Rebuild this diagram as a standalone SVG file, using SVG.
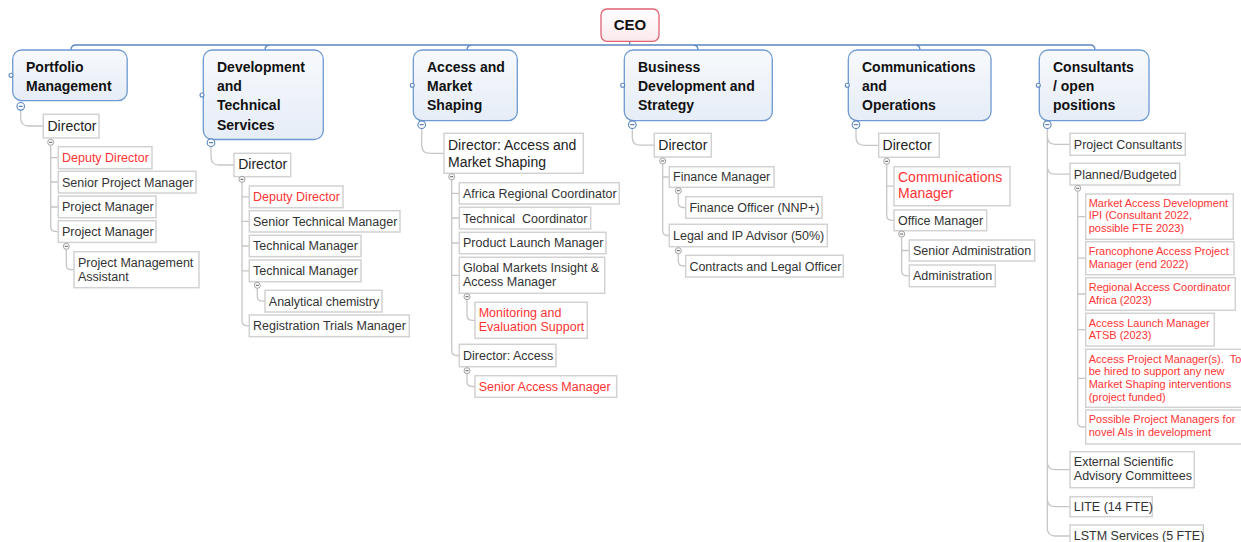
<svg xmlns="http://www.w3.org/2000/svg" width="1241" height="542" viewBox="0 0 1241 542">
<defs>
<linearGradient id="gb" x1="0" y1="0" x2="0" y2="1"><stop offset="0" stop-color="#f7f9fc"/><stop offset="1" stop-color="#e6edf7"/></linearGradient>
<linearGradient id="gr" x1="0" y1="0" x2="0" y2="1"><stop offset="0" stop-color="#ffffff"/><stop offset="1" stop-color="#fbe9ec"/></linearGradient>
<style>
.l1{fill:url(#gb);stroke:#6d9ad2;stroke-width:1.3}
.ceo{fill:url(#gr);stroke:#df6373;stroke-width:1.3}
.n{fill:#fff;stroke:#d2d2d2;stroke-width:1.5}
text{font-family:"Liberation Sans",Arial,sans-serif}
.h{font-size:14px;font-weight:bold;fill:#111}
.t{font-size:12.5px;fill:#333;white-space:pre}
.d{font-size:14px;fill:#222}
.r{fill:#ff3333}
.s{font-size:11px;fill:#ff3333;white-space:pre}
.c{fill:none;stroke:#c6c6c6;stroke-width:1.3}
.cb{fill:none;stroke:#5b87c2;stroke-width:1.3}
.k{fill:#fff;stroke:#a0a0a0;stroke-width:1}
.kb{fill:#fff;stroke:#5b87c2;stroke-width:1.1}
.m{stroke:#555;stroke-width:1}
.mb{stroke:#3a66a8;stroke-width:1}
</style>
</defs>
<rect width="1241" height="542" fill="#fff"/>

<g id="connectors">
<path class="cb" d="M629.7 41.3 V45 M76 45 H1090 M76 45 Q71 45 71 50 M270 45 Q265 45 265 50 M472 45 Q467 45 467 50 M693 45 Q698 45 698 50 M915 45 Q920 45 920 50 M1090 45 Q1095 45 1095 50"/>
<!-- Portfolio -->
<path class="c" d="M20.7 110 V118 Q20.7 126 28.7 126 H43.3"/>
<path class="c" d="M50.7 145.6 V226.5 Q50.7 231.5 55.7 231.5 H58.3 M50.7 157.7 H58.3 M50.7 182 H58.3 M50.7 207 H58.3"/>
<path class="c" d="M66.3 249.6 V264.7 Q66.3 269.7 71.3 269.7 H74"/>
<!-- Dev -->
<path class="c" d="M211 146.5 V157 Q211 165 219 165 H234"/>
<path class="c" d="M242 182.6 V320.8 Q242 325.8 247 325.8 H249.3 M242 196.8 H249.3 M242 221.3 H249.3 M242 246 H249.3 M242 270.8 H249.3"/>
<path class="c" d="M257.3 288.6 V296.2 Q257.3 301.2 262.3 301.2 H265"/>
<!-- Access -->
<path class="c" d="M421.7 128.5 V145.3 Q421.7 153.3 429.7 153.3 H444"/>
<path class="c" d="M451.7 180 V350.5 Q451.7 355.5 456.7 355.5 H459.3 M451.7 193.3 H459.3 M451.7 218 H459.3 M451.7 243 H459.3 M451.7 275.3 H459.3"/>
<path class="c" d="M467 300 V315.3 Q467 320.3 472 320.3 H475"/>
<path class="c" d="M467 374 V381.5 Q467 386.5 472 386.5 H475"/>
<!-- Business -->
<path class="c" d="M632.3 128.5 V137.2 Q632.3 145.2 640.3 145.2 H654.3"/>
<path class="c" d="M662.7 164.3 V230.5 Q662.7 235.5 667.7 235.5 H669.3 M662.7 177 H669.3"/>
<path class="c" d="M678.3 194 V202.5 Q678.3 207.5 683.3 207.5 H685.7"/>
<path class="c" d="M678.3 254 V261 Q678.3 266 683.3 266 H685.7"/>
<!-- Comms -->
<path class="c" d="M856 128.5 V137.3 Q856 145.3 864 145.3 H878.7"/>
<path class="c" d="M886.7 164.6 V215.3 Q886.7 220.3 891.7 220.3 H894 M886.7 186.2 H894"/>
<path class="c" d="M901.7 237.3 V270.8 Q901.7 275.8 906.7 275.8 H909.3 M901.7 250.5 H909.3"/>
<!-- Consultants -->
<path class="c" d="M1047.3 128.5 V528 Q1047.3 536 1055.3 536 H1070 M1047.3 136.3 Q1047.3 144.3 1055.3 144.3 H1070 M1047.3 166.2 Q1047.3 174.2 1055.3 174.2 H1070 M1047.3 461.7 Q1047.3 469.7 1055.3 469.7 H1070 M1047.3 498.7 Q1047.3 506.7 1055.3 506.7 H1070"/>
<path class="c" d="M1077.7 191.6 V422 Q1077.7 427 1082.7 427 H1085.7 M1077.7 216.7 H1085.7 M1077.7 258.2 H1085.7 M1077.7 294 H1085.7 M1077.7 329.7 H1085.7 M1077.7 378.3 H1085.7"/>
</g>

<g id="ceo">
<rect class="ceo" x="601" y="9" width="58" height="32.3" rx="6"/>
<text x="630" y="29.5" text-anchor="middle" style="font-size:15px;font-weight:bold;fill:#111">CEO</text>
</g>

<!-- Level 1 -->
<g id="portfolio">
<rect class="l1" x="12.7" y="50" width="114.5" height="50.7" rx="9"/>
<text class="h" x="26" y="71.7">Portfolio</text>
<text class="h" x="26" y="91">Management</text>
<circle class="kb" cx="11" cy="75.3" r="2"/>
<circle class="kb" cx="20.7" cy="106.3" r="3.8"/><line class="mb" x1="18.7" y1="106.3" x2="22.7" y2="106.3"/>
</g>
<g id="dev">
<rect class="l1" x="203.3" y="50" width="120" height="89.5" rx="9"/>
<text class="h" x="217" y="71.7">Development</text>
<text class="h" x="217" y="91">and</text>
<text class="h" x="217" y="110.3">Technical</text>
<text class="h" x="217" y="129.6">Services</text>
<circle class="kb" cx="202" cy="95" r="2"/>
<circle class="kb" cx="211" cy="142.7" r="3.8"/><line class="mb" x1="209" y1="142.7" x2="213" y2="142.7"/>
</g>
<g id="access">
<rect class="l1" x="413.3" y="50" width="104" height="70.7" rx="9"/>
<text class="h" x="427" y="71.7">Access and</text>
<text class="h" x="427" y="91">Market</text>
<text class="h" x="427" y="110.3">Shaping</text>
<circle class="kb" cx="412.3" cy="85.3" r="2"/>
<circle class="kb" cx="421.7" cy="124.7" r="3.8"/><line class="mb" x1="419.7" y1="124.7" x2="423.7" y2="124.7"/>
</g>
<g id="business">
<rect class="l1" x="624.3" y="50" width="148" height="70.7" rx="9"/>
<text class="h" x="638" y="71.7">Business</text>
<text class="h" x="638" y="91">Development and</text>
<text class="h" x="638" y="110.3">Strategy</text>
<circle class="kb" cx="622.7" cy="85.3" r="2"/>
<circle class="kb" cx="632.3" cy="124.7" r="3.8"/><line class="mb" x1="630.3" y1="124.7" x2="634.3" y2="124.7"/>
</g>
<g id="comms">
<rect class="l1" x="848.3" y="50" width="142.7" height="70.7" rx="9"/>
<text class="h" x="862" y="71.7">Communications</text>
<text class="h" x="862" y="91">and</text>
<text class="h" x="862" y="110.3">Operations</text>
<circle class="kb" cx="847.3" cy="85.3" r="2"/>
<circle class="kb" cx="856" cy="124.7" r="3.8"/><line class="mb" x1="854" y1="124.7" x2="858" y2="124.7"/>
</g>
<g id="consultants">
<rect class="l1" x="1039.3" y="50" width="109.7" height="70.7" rx="9"/>
<text class="h" x="1053" y="71.7">Consultants</text>
<text class="h" x="1053" y="91">/ open</text>
<text class="h" x="1053" y="110.3">positions</text>
<circle class="kb" cx="1038.3" cy="85.3" r="2"/>
<circle class="kb" cx="1047.3" cy="124.7" r="3.8"/><line class="mb" x1="1045.3" y1="124.7" x2="1049.3" y2="124.7"/>
</g>

<!-- Portfolio children -->
<g id="pm-director"><rect class="n" x="43.3" y="114.3" width="55.7" height="23.7"/><text class="d" x="47.5" y="130.7">Director</text>
<circle class="k" cx="50.7" cy="142.3" r="3"/><line class="m" x1="49.2" y1="142.3" x2="52.2" y2="142.3"/></g>
<g id="pm-deputy"><rect class="n" x="58.3" y="146.7" width="93.7" height="22"/><text class="t r" x="62" y="161.9">Deputy Director</text></g>
<g id="pm-spm"><rect class="n" x="58.3" y="171.3" width="137.7" height="21.7"/><text class="t" x="62" y="186.5">Senior Project Manager</text></g>
<g id="pm-pm1"><rect class="n" x="58.3" y="196" width="97.7" height="21.7"/><text class="t" x="62" y="211.2">Project Manager</text></g>
<g id="pm-pm2"><rect class="n" x="58.3" y="220.7" width="97.7" height="21.7"/><text class="t" x="62" y="235.9">Project Manager</text>
<circle class="k" cx="66.3" cy="246.3" r="3"/><line class="m" x1="64.8" y1="246.3" x2="67.8" y2="246.3"/></g>
<g id="pm-pma"><rect class="n" x="74" y="251.7" width="125" height="36"/><text class="t" x="78" y="266.7">Project Management</text><text class="t" x="78" y="280.9">Assistant</text></g>

<!-- Dev children -->
<g id="dts-director"><rect class="n" x="234" y="153.3" width="56.7" height="23.4"/><text class="d" x="238.2" y="169.4">Director</text>
<circle class="k" cx="242" cy="179.3" r="3"/><line class="m" x1="240.5" y1="179.3" x2="243.5" y2="179.3"/></g>
<g id="dts-deputy"><rect class="n" x="249.3" y="186" width="93.7" height="21.7"/><text class="t r" x="253" y="201.2">Deputy Director</text></g>
<g id="dts-stm"><rect class="n" x="249.3" y="210.7" width="150.7" height="21.3"/><text class="t" x="253" y="225.7">Senior Technical Manager</text></g>
<g id="dts-tm1"><rect class="n" x="249.3" y="235.3" width="111.7" height="21.4"/><text class="t" x="253" y="250.4">Technical Manager</text></g>
<g id="dts-tm2"><rect class="n" x="249.3" y="260" width="111.7" height="21.7"/><text class="t" x="253" y="275.2">Technical Manager</text>
<circle class="k" cx="257.3" cy="285.3" r="3"/><line class="m" x1="255.8" y1="285.3" x2="258.8" y2="285.3"/></g>
<g id="dts-ac"><rect class="n" x="265" y="290.3" width="117" height="21.7"/><text class="t" x="268.8" y="305.5">Analytical chemistry</text></g>
<g id="dts-rtm"><rect class="n" x="249.3" y="315" width="160" height="21.7"/><text class="t" x="253" y="330.2">Registration Trials Manager</text></g>

<!-- Access children -->
<g id="ams-director"><rect class="n" x="444" y="133.3" width="139.3" height="40"/><text class="d" x="448" y="150">Director: Access and</text><text class="d" x="448" y="166.7">Market Shaping</text>
<circle class="k" cx="451.7" cy="176.7" r="3"/><line class="m" x1="450.2" y1="176.7" x2="453.2" y2="176.7"/></g>
<g id="ams-arc"><rect class="n" x="459.3" y="182.7" width="160" height="21.3"/><text class="t" x="463" y="197.7">Africa Regional Coordinator</text></g>
<g id="ams-tc"><rect class="n" x="459.3" y="207.3" width="131.4" height="21.7"/><text class="t" x="463" y="222.5">Technical  Coordinator</text></g>
<g id="ams-plm"><rect class="n" x="459.3" y="232.3" width="146.7" height="21.4"/><text class="t" x="463" y="247.4">Product Launch Manager</text></g>
<g id="ams-gmi"><rect class="n" x="459.3" y="257.3" width="145.4" height="36"/><text class="t" x="463" y="271.9">Global Markets Insight &amp;</text><text class="t" x="463" y="286.2">Access Manager</text>
<circle class="k" cx="467" cy="296.7" r="3"/><line class="m" x1="465.5" y1="296.7" x2="468.5" y2="296.7"/></g>
<g id="ams-me"><rect class="n" x="475" y="302.3" width="112.3" height="36"/><text class="t r" x="478.7" y="316.9">Monitoring and</text><text class="t r" x="478.7" y="331.2">Evaluation Support</text></g>
<g id="ams-da"><rect class="n" x="459.3" y="344.3" width="96.7" height="22.4"/><text class="t" x="463" y="359.8">Director: Access</text>
<circle class="k" cx="467" cy="370.7" r="3"/><line class="m" x1="465.5" y1="370.7" x2="468.5" y2="370.7"/></g>
<g id="ams-sam"><rect class="n" x="475" y="375.7" width="141.7" height="21.6"/><text class="t r" x="478.7" y="390.8">Senior Access Manager</text></g>

<!-- Business children -->
<g id="bds-director"><rect class="n" x="654.3" y="133.3" width="57" height="23.7"/><text class="d" x="658.3" y="149.8">Director</text>
<circle class="k" cx="662.7" cy="161" r="3"/><line class="m" x1="661.2" y1="161" x2="664.2" y2="161"/></g>
<g id="bds-fm"><rect class="n" x="669.3" y="166.7" width="104.7" height="20.6"/><text class="t" x="673" y="181.4">Finance Manager</text>
<circle class="k" cx="678.3" cy="190.7" r="3"/><line class="m" x1="676.8" y1="190.7" x2="679.8" y2="190.7"/></g>
<g id="bds-fo"><rect class="n" x="685.7" y="196.7" width="136.3" height="21.6"/><text class="t" x="689.4" y="211.8">Finance Officer (NNP+)</text></g>
<g id="bds-legal"><rect class="n" x="669.3" y="224.3" width="158" height="22.4"/><text class="t" x="673" y="239.8">Legal and IP Advisor (50%)</text>
<circle class="k" cx="678.3" cy="250.7" r="3"/><line class="m" x1="676.8" y1="250.7" x2="679.8" y2="250.7"/></g>
<g id="bds-clo"><rect class="n" x="685.7" y="255.3" width="157.6" height="21.7"/><text class="t" x="689.4" y="270.5">Contracts and Legal Officer</text></g>

<!-- Comms children -->
<g id="co-director"><rect class="n" x="878.7" y="133.3" width="60.6" height="24"/><text class="d" x="882.6" y="149.9">Director</text>
<circle class="k" cx="886.7" cy="161.3" r="3"/><line class="m" x1="885.2" y1="161.3" x2="888.2" y2="161.3"/></g>
<g id="co-cm"><rect class="n" x="894" y="166.7" width="116" height="39"/><text class="d r" x="898" y="181.7">Communications</text><text class="d r" x="898" y="198.4">Manager</text></g>
<g id="co-om"><rect class="n" x="894" y="210" width="92.7" height="20.7"/><text class="t" x="898" y="224.8">Office Manager</text>
<circle class="k" cx="901.7" cy="234" r="3"/><line class="m" x1="900.2" y1="234" x2="903.2" y2="234"/></g>
<g id="co-sa"><rect class="n" x="909.3" y="240" width="125.4" height="21"/><text class="t" x="913" y="254.9">Senior Administration</text></g>
<g id="co-a"><rect class="n" x="909.3" y="265" width="86" height="21.7"/><text class="t" x="913" y="280.2">Administration</text></g>

<!-- Consultants children -->
<g id="cs-pc"><rect class="n" x="1070" y="133.3" width="115.3" height="22"/><text class="t" x="1073.8" y="148.6">Project Consultants</text></g>
<g id="cs-pb"><rect class="n" x="1070" y="163.3" width="109.7" height="21.7"/><text class="t" x="1073.8" y="178.6">Planned/Budgeted</text>
<circle class="k" cx="1077.7" cy="188.3" r="3"/><line class="m" x1="1076.2" y1="188.3" x2="1079.2" y2="188.3"/></g>
<g id="cs-mad"><rect class="n" x="1085.7" y="194" width="147.6" height="45.3"/><text class="s" x="1088.7" y="206.7">Market Access Development</text><text class="s" x="1088.7" y="219.4">IPI (Consultant 2022,</text><text class="s" x="1088.7" y="232.1">possible FTE 2023)</text></g>
<g id="cs-fapm"><rect class="n" x="1085.7" y="241.7" width="148.3" height="33"/><text class="s" x="1088.7" y="255">Francophone Access Project</text><text class="s" x="1088.7" y="267.7">Manager (end 2022)</text></g>
<g id="cs-rac"><rect class="n" x="1085.7" y="277.7" width="149.6" height="32.6"/><text class="s" x="1088.7" y="291">Regional Access Coordinator</text><text class="s" x="1088.7" y="303.7">Africa (2023)</text></g>
<g id="cs-alm"><rect class="n" x="1085.7" y="313.3" width="128.6" height="32.7"/><text class="s" x="1088.7" y="326.7">Access Launch Manager</text><text class="s" x="1088.7" y="339.4">ATSB (2023)</text></g>
<g id="cs-apm"><rect class="n" x="1085.7" y="349.3" width="158" height="58"/><text class="s" x="1088.7" y="362.7">Access Project Manager(s).  To</text><text class="s" x="1088.7" y="375.4">be hired to support any new</text><text class="s" x="1088.7" y="388.1">Market Shaping interventions</text><text class="s" x="1088.7" y="400.8">(project funded)</text></g>
<g id="cs-ppm"><rect class="n" x="1085.7" y="410" width="158" height="34"/><text class="s" x="1088.7" y="423.3">Possible Project Managers for</text><text class="s" x="1088.7" y="436">novel AIs in development</text></g>
<g id="cs-esac"><rect class="n" x="1070" y="451.7" width="124.3" height="36"/><text class="t" x="1073.8" y="466.2">External Scientific</text><text class="t" x="1073.8" y="480.4">Advisory Committees</text></g>
<g id="cs-lite"><rect class="n" x="1070" y="496.7" width="82.3" height="20"/><text class="t" x="1073.8" y="511">LITE (14 FTE)</text></g>
<g id="cs-lstm"><rect class="n" x="1070" y="525" width="133.3" height="22"/><text class="t" x="1073.8" y="540.2">LSTM Services (5 FTE)</text></g>
</svg>
